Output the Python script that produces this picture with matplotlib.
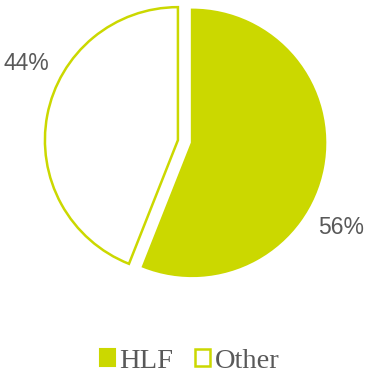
import matplotlib
matplotlib.use("Agg")
import matplotlib.pyplot as plt
from matplotlib.patches import Patch

categories = ["HLF", "Other"]
values = [56, 44]
pct_labels = ["56%", "44%"]

green = "#cbd800"
gray = "#595959"

fig = plt.figure(figsize=(3.67, 3.73), dpi=100)
ax = fig.add_axes([0, 0, 1, 1])
ax.set_xlim(0, 367)
ax.set_ylim(0, 373)
ax.axis("off")

wedges, _ = ax.pie(values, startangle=90, counterclock=False, radius=133,
                   center=(185, 231.5), explode=[7.2, 7.2],
                   colors=[green, "white"],
                   wedgeprops=dict(edgecolor=green, linewidth=1.8))
ax.set_xlim(0, 367)
ax.set_ylim(0, 373)
ax.set_aspect("equal")

ax.text(341, 146, pct_labels[0], ha="center", va="center", fontsize=16.5,
        family="Liberation Sans", color=gray)
ax.text(26, 310, pct_labels[1], ha="center", va="center", fontsize=16.5,
        family="Liberation Sans", color=gray)

handles = [Patch(facecolor=green, edgecolor=green, linewidth=1.5),
           Patch(facecolor="white", edgecolor=green, linewidth=1.8)]
leg = ax.legend(handles, categories, loc="center", bbox_to_anchor=(189.5, 12),
                bbox_transform=ax.transData, ncol=2, frameon=False,
                prop=dict(family="Liberation Serif", size=20.5),
                handlelength=0.55, handleheight=0.55, handletextpad=0.15,
                columnspacing=0.75, borderpad=0, borderaxespad=0)
for t in leg.get_texts():
    t.set_color(gray)

fig.savefig("out.png", dpi=100)
